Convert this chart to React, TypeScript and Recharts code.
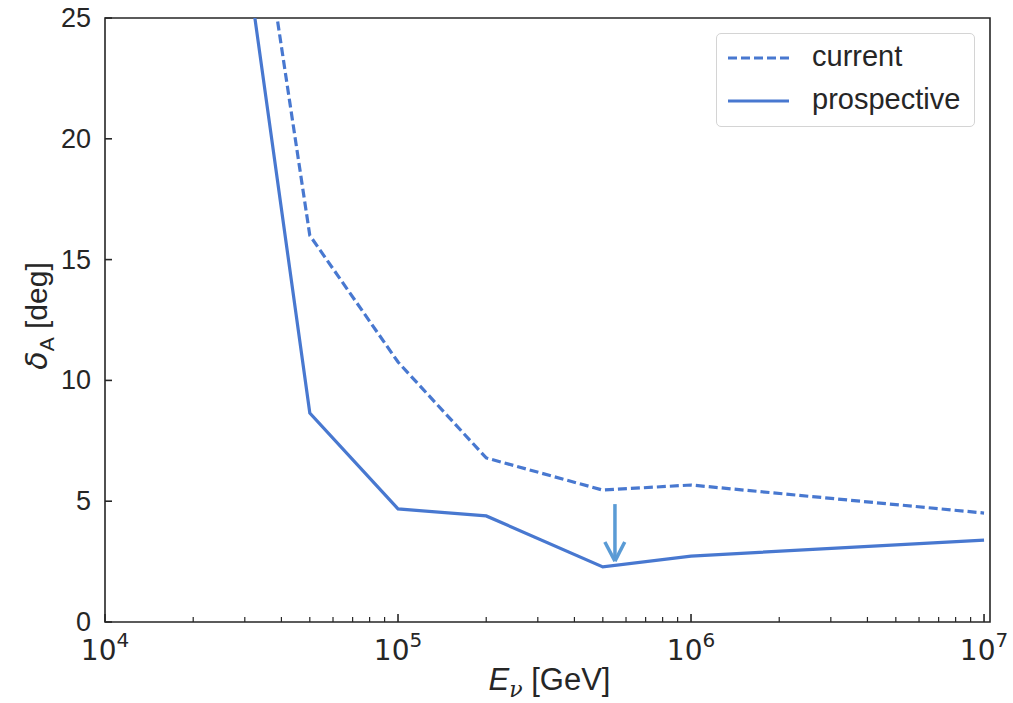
import React from 'react';
import {
  LineChart,
  Line,
  XAxis,
  YAxis,
  Legend,
  ReferenceArea,
  ReferenceLine,
} from 'recharts';

// neutrino energies [GeV] and angular resolution [deg]
const energies = [3e4, 5e4, 1e5, 2e5, 5e5, 1e6, 1e7];
const currentRes = [33.9, 16.0, 10.76, 6.79, 5.46, 5.67, 4.51];
const prospectiveRes = [28.0, 8.65, 4.68, 4.39, 2.28, 2.73, 3.39];

const xMajorTicks = [1e4, 1e5, 1e6, 1e7];
const xMinorTicks = [1e4, 1e5, 1e6].flatMap((d) => [2, 3, 4, 5, 6, 7, 8, 9].map((m) => m * d));
const yTicks = [0, 5, 10, 15, 20, 25];

// improvement arrow (energy, from, to)
const arrowE = 5.5e5;
const arrowFrom = 4.88;
const arrowTo = 2.52;
const arrowHeadY = 3.31;
const arrowHeadE = [5.08e5, 5.94e5];

const BLUE = '#4878d0';
const ARROW = '#5a9bd5';
const INK = '#262626';
const SANS = '"Liberation Sans", Arial, sans-serif';

const data = energies.map((e, i) => ({
  e,
  current: currentRes[i],
  prospective: prospectiveRes[i],
}));

const XTick = (props: any) => {
  const { x, y, payload } = props;
  const v = payload.value as number;
  const exp = Math.round(Math.log10(v));
  const major = Math.abs(Math.pow(10, exp) - v) < 1e-6 * v;
  return (
    <g>
      <line x1={x} x2={x} y1={y} y2={y - (major ? 8 : 5)} stroke={INK} strokeWidth={major ? 1.6 : 1.2} />
      {major && (
        <text x={x} y={y + 38} textAnchor="middle" fill={INK} fontFamily='"DejaVu Sans", sans-serif' fontSize={28}>
          10
          <tspan dy={-13} fontSize={20}>{exp}</tspan>
        </text>
      )}
    </g>
  );
};

const YTick = (props: any) => {
  const { x, y, payload } = props;
  return (
    <g>
      <line x1={x} x2={x + 7} y1={y} y2={y} stroke={INK} strokeWidth={1.6} />
      <text x={x - 14} y={y} textAnchor="end" dominantBaseline="central" fill={INK} fontFamily={SANS} fontSize={27}>
        {payload.value}
      </text>
    </g>
  );
};

const LegendBox = () => (
  <div
    style={{
      width: 259,
      height: 94,
      border: '1.2px solid #d4d4d4',
      borderRadius: 5,
      background: '#fff',
      boxSizing: 'border-box',
      fontFamily: SANS,
      fontSize: 29,
      color: INK,
      position: 'relative',
    }}
  >
    <svg width={80} height={92} style={{ position: 'absolute', left: 0, top: 0 }}>
      <line x1={11} x2={72} y1={24} y2={24} stroke={BLUE} strokeWidth={3.2} strokeDasharray="9 4" />
      <line x1={11} x2={72} y1={67} y2={67} stroke={BLUE} strokeWidth={3.2} />
    </svg>
    <div style={{ position: 'absolute', left: 95, top: 6 }}>current</div>
    <div style={{ position: 'absolute', left: 95, top: 49 }}>prospective</div>
  </div>
);

export default function App() {
  return (
    <div style={{ position: 'absolute', left: 0, top: 0, width: 1013, height: 703, background: '#fff' }}>
      <LineChart width={1013} height={703} data={data} margin={{ top: 18, right: 23, bottom: 31, left: 45 }}>
        <XAxis
          dataKey="e"
          type="number"
          scale="log"
          domain={[1e4, 1.048e7]}
          allowDataOverflow
          ticks={[...xMajorTicks, ...xMinorTicks].sort((a, b) => a - b)}
          interval={0}
          tick={<XTick />}
          tickLine={false}
          axisLine={false}
          tickSize={0}
          tickMargin={0}
          height={50}
        />
        <YAxis
          type="number"
          domain={[0, 25]}
          allowDataOverflow
          ticks={yTicks}
          interval={0}
          tick={<YTick />}
          tickLine={false}
          axisLine={false}
          tickSize={0}
          tickMargin={0}
          width={60}
        />
        <ReferenceArea x1={1e4} x2={1.048e7} y1={0} y2={25} fill="none" stroke={INK} strokeWidth={1.6} />
        <Line
          dataKey="current"
          type="linear"
          stroke={BLUE}
          strokeWidth={3.2}
          strokeDasharray="9 4"
          dot={false}
          isAnimationActive={false}
        />
        <Line
          dataKey="prospective"
          type="linear"
          stroke={BLUE}
          strokeWidth={3.2}
          dot={false}
          isAnimationActive={false}
        />
        <ReferenceLine segment={[{ x: arrowE, y: arrowFrom }, { x: arrowE, y: arrowTo }]} stroke={ARROW} strokeWidth={3.5} />
        <ReferenceLine segment={[{ x: arrowHeadE[0], y: arrowHeadY }, { x: arrowE, y: arrowTo }]} stroke={ARROW} strokeWidth={3.5} />
        <ReferenceLine segment={[{ x: arrowHeadE[1], y: arrowHeadY }, { x: arrowE, y: arrowTo }]} stroke={ARROW} strokeWidth={3.5} />
        <Legend
          layout="horizontal"
          verticalAlign="middle"
          align="center"
          content={<LegendBox />}
          wrapperStyle={{ left: 716, top: 33, width: 259, height: 94 }}
        />
      </LineChart>
      <div
        style={{
          position: 'absolute',
          left: 0,
          width: 1013,
          top: 662,
          textAlign: 'center',
          paddingLeft: 86,
          boxSizing: 'border-box',
          fontFamily: SANS,
          fontSize: 31,
          color: INK,
        }}
      >
        <i>E</i>
        <sub style={{ fontSize: 22, fontStyle: 'italic', fontFamily: '"DejaVu Serif", serif' }}>ν</sub> [GeV]
      </div>
      <div
        style={{
          position: 'absolute',
          left: 39,
          top: 316,
          transform: 'translate(-50%, -50%) rotate(-90deg)',
          whiteSpace: 'nowrap',
          fontFamily: SANS,
          fontSize: 30,
          color: INK,
        }}
      >
        <i style={{ fontFamily: '"DejaVu Sans", sans-serif' }}>δ</i>
        <sub style={{ fontSize: 21 }}>A</sub> [deg]
      </div>
    </div>
  );
}
